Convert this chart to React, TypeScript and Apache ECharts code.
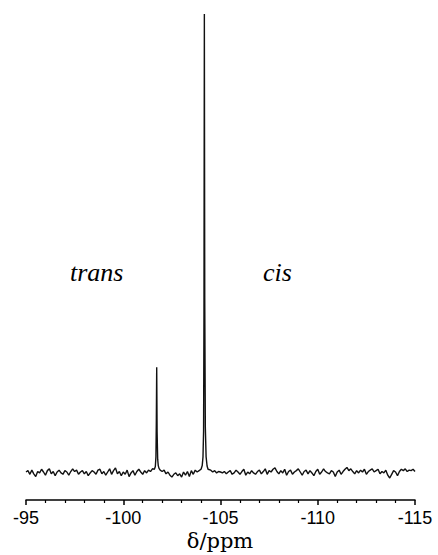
import React, { useEffect, useRef } from "react";
import * as echarts from "echarts";

// Chemical shift axis (ppm)
const axisMin = -115;
const axisMax = -95;
const tickInterval = 5;

// Baseline noise sampled every 0.1 ppm starting at -95.0 ppm (intensity, cis peak = 100)
const noiseStart = -95.0;
const noiseStep = -0.1;
const baselineNoise = [
  0.2, 0.5, -0.3, 0.6, -0.2, -0.8, 0.3, 0.0, 0.8, 0.2, -0.5, 0.5, 0.9, -0.2, 0.3, -0.6, 0.2, 0.6, 0.0, -0.3,
  0.5, 0.2, -0.5, 0.3, 0.9, 0.3, 0.6, -0.3, 0.2, 0.5, -0.2, 0.3, -0.6, 0.0, 0.5, 0.2, -0.3, 0.6, 0.8, -0.2,
  0.3, -0.5, 0.2, 0.9, -0.3, 0.5, 1.1, -0.2, 0.3, -0.6, 0.2, -0.3, 0.6, -0.8, 0.0, 0.5, -0.5, 0.3, 0.8, 0.2,
  -0.3, 0.5, 0.0, 0.6, 0.3, 0.9, 0.5, 0.8, 1.2, 0.6, 0.3, 0.6, -0.2, 0.2, -0.5, -0.9, -0.3, 0.0, -0.6, -0.2,
  -0.9, 0.2, -0.5, 0.3, -0.8, 0.5, -0.3, 0.6, 0.2, 0.5, 0.9, 1.2, 1.3, 0.9, 0.8, 0.6, 0.2, 0.5, 0.0, 0.3,
  0.2, 0.0, 0.3, -0.2, 0.2, 0.5, -0.3, 0.0, 0.6, 0.2, -0.3, 0.3, 0.8, -0.5, 0.2, -0.2, 0.5, 0.0, -0.3, 0.3,
  0.6, -0.2, 0.3, 0.9, -0.3, 0.5, 0.2, 0.8, 1.1, 0.3, -0.2, 0.5, 0.0, 0.8, -0.5, 0.3, 0.6, -0.3, 0.2, 0.5,
  0.9, 0.2, -0.5, 0.3, 0.6, -0.2, 0.5, 0.0, -0.6, 0.3, 0.8, -0.3, 0.2, 0.9, 0.3, 0.0, -0.2, 0.5, 0.2, -0.8,
  0.2, 0.6, -0.3, 0.3, 0.8, 1.2, 0.5, 0.9, 0.3, -0.2, 0.5, 0.0, 0.6, 0.2, 0.8, -0.3, 0.3, 0.6, 0.9, 0.2,
  0.5, 0.8, -0.2, 0.3, 0.0, 0.6, -0.5, -1.1, -0.3, 0.5, 0.2, -0.6, 0.3, 0.8, 0.5, 0.9, 0.3, 0.6, 0.5, 0.8,
  0.3,
];

// trans resonance
const transShift = [-101.6, -101.65, -101.68, -101.7, -101.72, -101.74, -101.77, -101.8, -101.84];
const transIntensity = [0.8, 1.4, 3.5, 11, 23, 9, 3, 1.6, 1.0];

// cis resonance
const cisShift = [-104.0, -104.06, -104.1, -104.13, -104.15, -104.17, -104.19, -104.22, -104.26, -104.31, -104.36];
const cisIntensity = [0.8, 1.6, 3.5, 9, 35, 100, 38, 10, 3.5, 1.5, 0.8];

const peakWindows = [
  { lo: -101.88, hi: -101.58 },
  { lo: -104.4, hi: -103.98 },
];

function buildSpectrum(): [number, number][] {
  const pts: [number, number][] = [];
  baselineNoise.forEach((v, i) => {
    const x = +(noiseStart + i * noiseStep).toFixed(2);
    if (peakWindows.some((w) => x >= w.lo && x <= w.hi)) return;
    pts.push([x, v]);
  });
  transShift.forEach((x, i) => pts.push([x, transIntensity[i]]));
  cisShift.forEach((x, i) => pts.push([x, cisIntensity[i]]));
  pts.sort((a, b) => b[0] - a[0]);
  return pts;
}

const serif = "Liberation Serif, Times New Roman, Times, serif";

export default function App() {
  const ref = useRef<HTMLDivElement>(null);
  useEffect(() => {
    if (!ref.current) return;
    const chart = echarts.init(ref.current, null, { renderer: "svg" });
    chart.setOption({
      animation: false,
      backgroundColor: "#fff",
      grid: { left: 26, right: 23, top: 14, bottom: 55 },
      xAxis: {
        type: "value",
        min: axisMin,
        max: axisMax,
        interval: tickInterval,
        inverse: true,
        splitLine: { show: false },
        axisLine: { show: true, onZero: false, lineStyle: { color: "#000", width: 1.5 } },
        axisTick: { show: true, inside: false, length: 5, lineStyle: { color: "#000", width: 1.5 } },
        minorTick: { show: true, splitNumber: 5, length: 3, lineStyle: { color: "#000", width: 1.2 } },
        axisLabel: {
          color: "#000",
          fontFamily: "Liberation Sans, Arial, sans-serif",
          fontSize: 18,
          margin: 9,
        },
      },
      yAxis: {
        type: "value",
        min: -5.9,
        max: 100,
        show: false,
      },
      series: [
        {
          type: "line",
          data: buildSpectrum(),
          showSymbol: false,
          symbol: "none",
          lineStyle: { color: "#111", width: 1.4 },
        },
      ],
      graphic: [
        {
          type: "text",
          x: 220,
          y: 541,
          style: {
            text: "δ/ppm",
            fontFamily: "DejaVu Serif, serif",
            fontSize: 21,
            fill: "#000",
            align: "center",
            verticalAlign: "middle",
          },
        },
        {
          type: "text",
          x: 70,
          y: 272,
          style: {
            text: "trans",
            fontFamily: serif,
            fontStyle: "italic",
            fontSize: 26,
            fill: "#000",
            verticalAlign: "middle",
            align: "left",
          },
        },
        {
          type: "text",
          x: 263,
          y: 272,
          style: {
            text: "cis",
            fontFamily: serif,
            fontStyle: "italic",
            fontSize: 26,
            fill: "#000",
            verticalAlign: "middle",
            align: "left",
          },
        },
      ],
    });
    return () => chart.dispose();
  }, []);
  return <div ref={ref} style={{ width: 438, height: 555, position: "absolute", left: 0, top: 0 }} />;
}
